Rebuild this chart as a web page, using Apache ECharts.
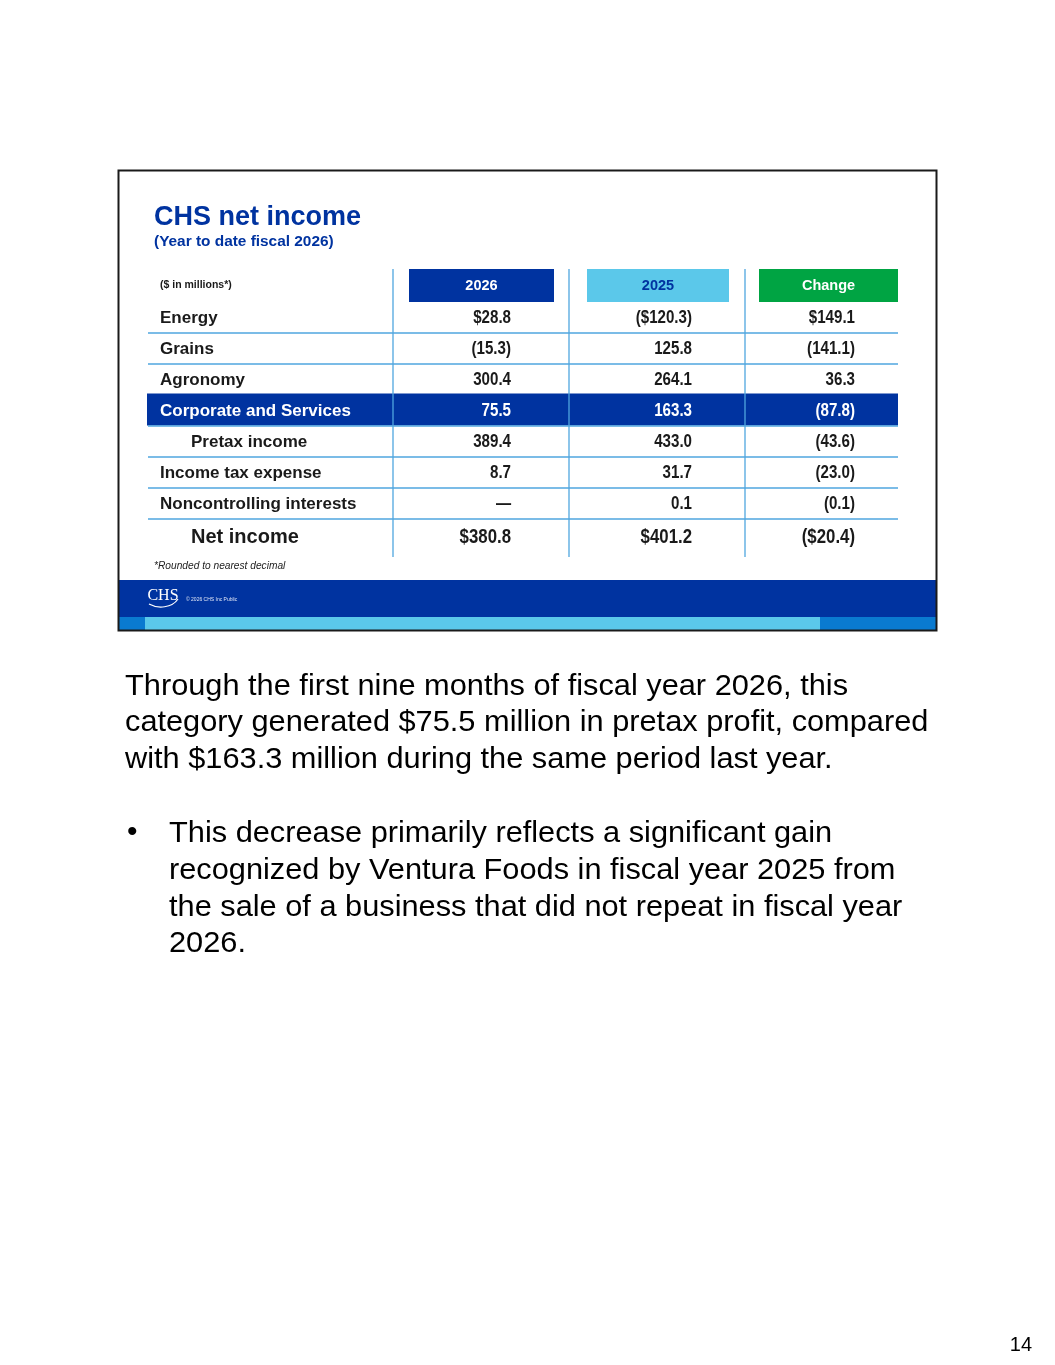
<!DOCTYPE html>
<html>
<head>
<meta charset="utf-8">
<script src="https://cdn.jsdelivr.net/npm/echarts@6/dist/echarts.min.js"></script>
<style>
  html, body { margin: 0; padding: 0; background: #fff; }
  #main { width: 1055px; height: 1365px; }
</style>
</head>
<body>
<div id="main"></div>
<script>
var dom = document.getElementById('main');
var myChart = echarts.init(dom);

// table data
var rows = ['Energy', 'Grains', 'Agronomy', 'Corporate and Services', 'Pretax income',
    'Income tax expense', 'Noncontrolling interests', 'Net income'];
var columns = ['2026', '2025', 'Change'];
var values2026 = [28.8, -15.3, 300.4, 75.5, 389.4, 8.7, null, 380.8];
var values2025 = [-120.3, 125.8, 264.1, 163.3, 433.0, 31.7, 0.1, 401.2];
var valuesChange = [149.1, -141.1, 36.3, -87.8, -43.6, -23.0, -0.1, -20.4];
var dollarRows = ['Energy', 'Net income'];
var indentRows = ['Pretax income', 'Net income'];
var highlightRow = 'Corporate and Services';

var bodyLines = [
    'Through the first nine months of fiscal year 2026, this',
    'category generated $75.5 million in pretax profit, compared',
    'with $163.3 million during the same period last year.'
];
var bulletLines = [
    'This decrease primarily reflects a significant gain',
    'recognized by Ventura Foods in fiscal year 2025 from',
    'the sale of a business that did not repeat in fiscal year',
    '2026.'
];

var DARK = '#0033a0';
var LINE = '#4fa6df';
var SANS = '"Liberation Sans", Arial, sans-serif';
var headerFill = [DARK, '#5bc8ea', '#00a443'];
var headerText = ['#fff', DARK, '#fff'];
var headerBox = [[16, 145], [18, 142], [14, 139]];   // left offset, width in column
var rightPad = [30, 35, 22];

function fmt(v, row) {
    if (v === null) return '\u2014';
    var s = Math.abs(v).toFixed(1);
    if (dollarRows.indexOf(row) >= 0) s = '$' + s;
    return v < 0 ? '(' + s + ')' : s;
}

var cells = [];
[values2026, values2025, valuesChange].forEach(function (arr, j) {
    arr.forEach(function (v, i) {
        cells.push([j, i + 1, fmt(v, rows[i])]);
    });
});

function bodyText(t, x, y) {
    return { type: 'text', x: x, y: y, scaleX: 1.025,
        style: { text: t, x: 0, y: 0, fill: '#000', font: '30px ' + SANS, textVerticalAlign: 'middle' } };
}

var graphics = [
    { type: 'rect', shape: { x: 118.5, y: 170.5, width: 818, height: 460 },
      style: { fill: 'none', stroke: '#1a1a1a', lineWidth: 2 }, z: 10 },
    { type: 'text', style: { text: 'CHS net income', x: 154, y: 218, fill: DARK,
      font: 'bold 27px ' + SANS, textVerticalAlign: 'middle' } },
    { type: 'text', style: { text: '(Year to date fiscal 2026)', x: 154, y: 242, fill: DARK,
      font: 'bold 15.4px ' + SANS, textVerticalAlign: 'middle' } },
    { type: 'text', style: { text: '*Rounded to nearest decimal', x: 154, y: 566, fill: '#222',
      font: 'italic 10.2px ' + SANS, textVerticalAlign: 'middle' } },
    { type: 'rect', shape: { x: 119, y: 580, width: 817, height: 37 }, style: { fill: DARK } },
    { type: 'rect', shape: { x: 119, y: 617, width: 817, height: 13 }, style: { fill: '#0a7ad0' } },
    { type: 'rect', shape: { x: 145, y: 617, width: 675, height: 13 }, style: { fill: '#5bc8ea' } },
    { type: 'text', style: { text: 'CHS', x: 163, y: 596, fill: '#fff',
      font: '16px "Liberation Serif", serif', textAlign: 'center', textVerticalAlign: 'middle' } },
    { type: 'bezierCurve', shape: { x1: 149, y1: 604, cpx1: 158, cpy1: 609, cpx2: 172, cpy2: 608, x2: 178, y2: 599 },
      style: { stroke: '#fff', lineWidth: 1.2, fill: 'none' } },
    { type: 'text', style: { text: '\u00a9 2026 CHS Inc Public', x: 186, y: 600, fill: '#dfe6f5',
      font: '5px ' + SANS, textVerticalAlign: 'middle' } },
    { type: 'text', style: { text: '\u2022', x: 127, y: 833, fill: '#000',
      font: '30px ' + SANS, textVerticalAlign: 'middle' } },
    { type: 'text', style: { text: '14', x: 1032, y: 1345, fill: '#000',
      font: '20px ' + SANS, textAlign: 'right', textVerticalAlign: 'middle' } }
];
bodyLines.forEach(function (t, i) {
    graphics.push(bodyText(t, 125, 686.5 + i * 36.7));
});
bulletLines.forEach(function (t, i) {
    graphics.push(bodyText(t, 169, 833.5 + i * 36.9));
});

option = {
    backgroundColor: '#fff',
    animation: false,
    grid: { left: 393, top: 270, width: 528, height: 279 },
    xAxis: { type: 'category', data: columns, show: false },
    yAxis: { type: 'category', data: ['header'].concat(rows), inverse: true, show: false },
    graphic: graphics,
    series: [{
        // row labels, highlight band and separators
        type: 'custom',
        z: 1,
        data: rows.map(function (r, i) { return [0, i + 1]; }),
        renderItem: function (params, api) {
            var cs = params.coordSys;
            var i = api.value(1) - 1;
            var name = rows[i];
            var cy = api.coord([0, i + 1])[1];
            var h = api.size([1, 1])[1];
            var kids = [];
            var hl = name === highlightRow;
            if (hl) {
                kids.push({ type: 'rect', shape: { x: cs.x - 246, y: cy - h / 2 - 0.5, width: 751, height: h + 1 },
                    style: { fill: DARK } });
            }
            if (i < rows.length - 1) {
                kids.push({ type: 'line', shape: { x1: cs.x - 245, y1: cy + h / 2 + 1, x2: cs.x + 505, y2: cy + h / 2 + 1 },
                    style: { stroke: LINE, lineWidth: 1.3 } });
            }
            var big = name === 'Net income';
            kids.push({ type: 'text', style: {
                text: name, x: cs.x - (indentRows.indexOf(name) >= 0 ? 202 : 233), y: big ? cy + 3.5 : cy + 1.5,
                fill: hl ? '#fff' : '#1a1a1a', font: 'bold ' + (big ? 20 : 17) + 'px ' + SANS,
                textVerticalAlign: 'middle' } });
            return { type: 'group', children: kids };
        }
    }, {
        // header boxes and column rules
        type: 'custom',
        z: 3,
        data: columns.map(function (c, j) { return [j, 0]; }),
        renderItem: function (params, api) {
            var cs = params.coordSys;
            var j = api.value(0);
            var w = api.size([1, 1])[0];
            var left = api.coord([j, 0])[0] - w / 2;
            var cy = api.coord([j, 0])[1];
            var kids = [
                { type: 'line', shape: { x1: left, y1: cs.y - 1, x2: left, y2: cs.y + cs.height + 8 },
                  style: { stroke: LINE, lineWidth: 1.3 } },
                { type: 'rect', shape: { x: left + headerBox[j][0], y: cy - 16.5, width: headerBox[j][1], height: 33 },
                  style: { fill: headerFill[j] } },
                { type: 'text', style: { text: columns[j], x: left + headerBox[j][0] + headerBox[j][1] / 2, y: cy,
                  fill: headerText[j], font: 'bold 14.5px ' + SANS, textAlign: 'center', textVerticalAlign: 'middle' } }
            ];
            if (j === 0) {
                kids.push({ type: 'text', style: { text: '($ in millions*)', x: cs.x - 233, y: cy,
                    fill: '#1a1a1a', font: 'bold 10.5px ' + SANS, textVerticalAlign: 'middle' } });
            }
            return { type: 'group', children: kids };
        }
    }, {
        // value cells, condensed bold
        type: 'custom',
        z: 4,
        data: cells,
        renderItem: function (params, api) {
            var j = api.value(0);
            var r = api.value(1);
            var p = api.coord([j, r]);
            var name = rows[r - 1];
            var big = name === 'Net income';
            return { type: 'text', x: p[0] + rightPad[j], y: big ? p[1] + 3.5 : p[1] + 1.5, scaleX: 0.84,
                style: {
                    text: cells[params.dataIndex][2], x: 0, y: 0,
                    fill: name === highlightRow ? '#fff' : '#1a1a1a',
                    font: 'bold ' + (big ? 20 : 18) + 'px ' + SANS,
                    textAlign: 'right', textVerticalAlign: 'middle' } };
        }
    }]
};

if (option && typeof option === 'object') {
    myChart.setOption(option, true);
}
</script>
</body>
</html>
